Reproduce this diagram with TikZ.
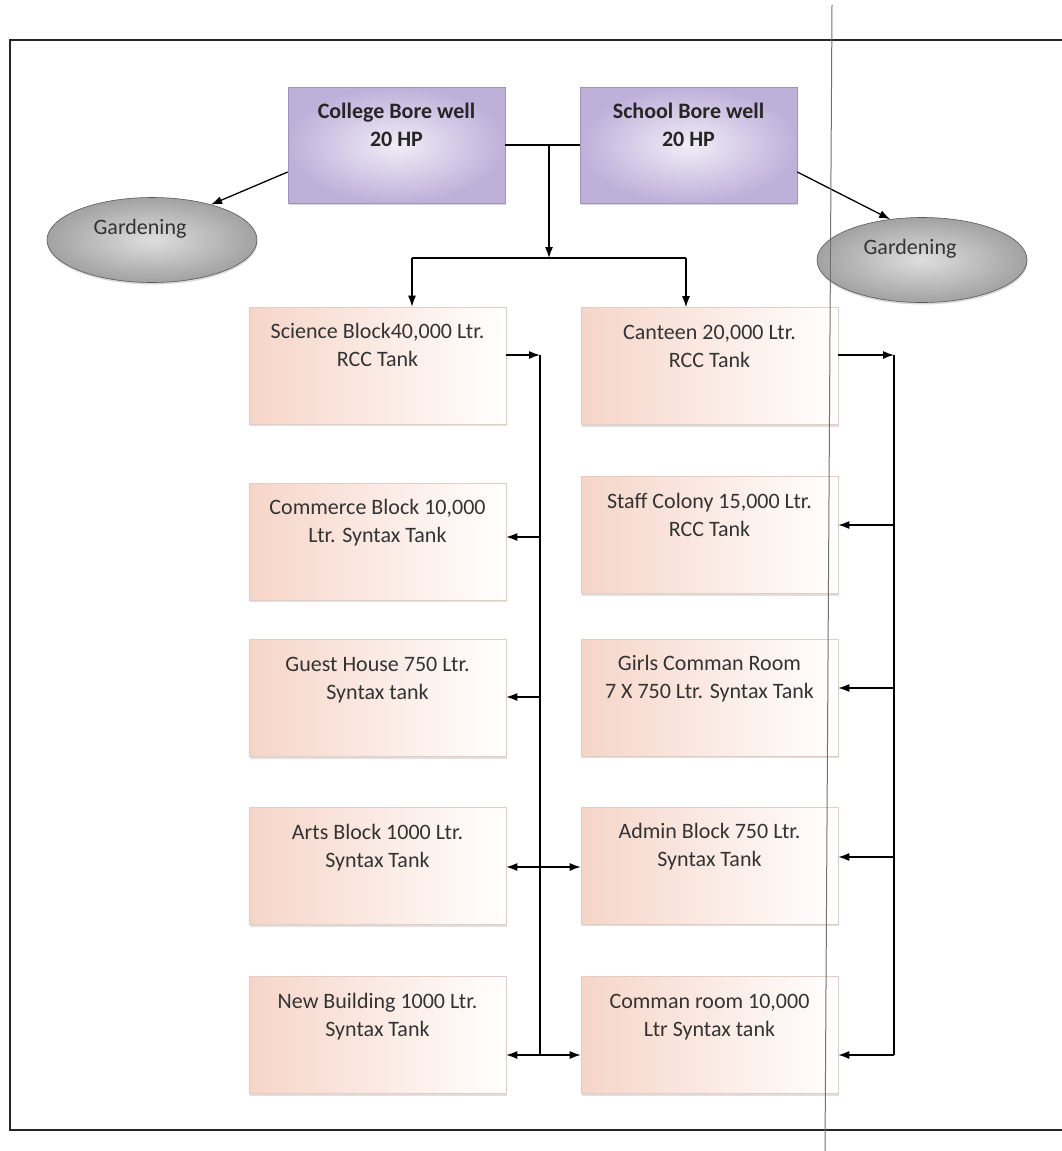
\documentclass[tikz,border=0pt]{standalone}
\usepackage{fontspec}
\setmainfont{Carlito}
\usetikzlibrary{shapes.geometric,arrows.meta,shadows}
\definecolor{wellin}{HTML}{F1EDF7}
\definecolor{wellout}{HTML}{BFB0DA}
\definecolor{wellbd}{HTML}{A193BE}
\definecolor{tankl}{HTML}{F6D5C8}
\definecolor{tankbd}{HTML}{E2CCC4}
\definecolor{gin}{HTML}{DEDEDE}
\definecolor{gout}{HTML}{A2A2A2}
\definecolor{txt}{HTML}{333333}
\newcommand\welltext[1]{\parbox[t][116pt][t]{217pt}{\centering\vspace*{12pt}\strut#1}}
\newcommand\tanktext[1]{\parbox[t][117pt][t]{257pt}{\centering\vspace*{12pt}\strut#1}}
\newcommand\gtext[1]{\smash{\raisebox{6pt}{#1}}\rule{24pt}{0pt}}
\tikzset{
  well/.style={draw=wellbd, line width=0.6pt, inner color=wellin, outer color=wellout,
    inner sep=0pt, font=\bfseries\fontsize{22}{28}\selectfont, text=black!85,
    drop shadow={shadow xshift=0.5pt, shadow yshift=-2pt, opacity=0.3}},
  tank/.style={draw=tankbd, line width=0.6pt, left color=tankl, right color=white,
    inner sep=0pt, font=\fontsize{22}{28}\selectfont, text=txt,
    drop shadow={shadow xshift=0.5pt, shadow yshift=-2pt, opacity=0.25}},
  garden/.style={ellipse, draw=gray!70!black, line width=0.6pt, inner color=gin, outer color=gout,
    minimum width=210pt, minimum height=85pt, inner sep=0pt,
    font=\fontsize{22}{26}\selectfont, text=black!80,
    drop shadow={shadow xshift=0.5pt, shadow yshift=-2pt, opacity=0.3}},
  conn/.style={line width=1.3pt, black},
  arr/.style={conn, -{Latex[length=11pt,width=8pt]}},
  frame/.style={line width=1.8pt, black!85},
  stray/.style={line width=1pt, black!55},
}
\begin{document}
\begin{tikzpicture}[x=1pt,y=-1pt]
\useasboundingbox[fill=white] (0,0) rectangle (1062,1151);
% frame
\draw[frame] (1062,40) -- (10,40) -- (10,1130) -- (1062,1130);
% wells
\node[well] (college) at (396.5,145) {\welltext{College Bore well\\20 HP}};
\node[well] (school) at (688.5,145) {\welltext{School Bore well\\20 HP}};
% gardening
\node[garden] (gl) at (152,240) {\gtext{Gardening}};
\node[garden] (gr) at (922,260) {\gtext{Gardening}};
% tanks left
\node[tank] (sci) at (377.5,365.5) {\tanktext{Science Block40,000 Ltr.\\RCC Tank}};
\node[tank] (com) at (377.5,541.5) {\tanktext{Commerce Block 10,000\\Ltr. Syntax Tank}};
\node[tank] (gue) at (377.5,698) {\tanktext{Guest House 750 Ltr.\\Syntax tank}};
\node[tank] (art) at (377.5,866) {\tanktext{Arts Block 1000 Ltr.\\Syntax Tank}};
\node[tank] (new) at (377.5,1035) {\tanktext{New Building 1000 Ltr.\\Syntax Tank}};
% tanks right
\node[tank] (can) at (709.5,366) {\tanktext{Canteen 20,000 Ltr.\\RCC Tank}};
\node[tank] (sta) at (709.5,535) {\tanktext{Staff Colony 15,000 Ltr.\\RCC Tank}};
\node[tank] (gir) at (709.5,697.5) {\tanktext{Girls Comman Room\\7 X 750 Ltr. Syntax Tank}};
\node[tank] (adm) at (709.5,865.5) {\tanktext{Admin Block 750 Ltr.\\Syntax Tank}};
\node[tank] (cmr) at (709.5,1035) {\tanktext{Comman room 10,000\\Ltr Syntax tank}};
% junction coordinates
\coordinate (j1) at (549,145);
\coordinate (j2) at (549,258);
\coordinate (jl) at (412,258);
\coordinate (jr) at (686,258);
\coordinate (bl1) at (540,355);
\coordinate (bl2) at (540,1055);
\coordinate (br1) at (894,355);
\coordinate (br2) at (894,1055);
% top connectors
\draw[conn] (college.east) -- (school.west);
\draw[arr] (j1) -- (j2);
\draw[conn] (jl) -- (jr);
\draw[arr] (jl) -- (jl |- sci.north);
\draw[arr] (jr) -- (jr |- can.north);
\draw[arr] ([yshift=-27pt]college.west) -- (gl.31);
\draw[arr] ([yshift=-27pt]school.east) -- (gr.128);
% left bus
\draw[arr] (sci.east |- bl1) -- (bl1);
\draw[conn] (bl1) -- (bl2);
\draw[arr] (bl1 |- 0,537) -- (com.east |- 0,537);
\draw[arr] (bl1 |- 0,697) -- (gue.east |- 0,697);
\draw[arr] (bl1 |- 0,867) -- (art.east |- 0,867);
\draw[arr] (bl1 |- 0,867) -- (adm.west |- 0,867);
\draw[arr] (bl2) -- (new.east |- bl2);
\draw[arr] (bl2) -- (cmr.west |- bl2);
% right bus
\draw[arr] (can.east |- br1) -- (br1);
\draw[conn] (br1) -- (br2);
\draw[arr] (br1 |- 0,525) -- (sta.east |- 0,525);
\draw[arr] (br1 |- 0,688) -- (gir.east |- 0,688);
\draw[arr] (br1 |- 0,857) -- (adm.east |- 0,857);
\draw[arr] (br2) -- (cmr.east |- br2);
% stray scan line
\draw[stray] (832,5) -- (825,1151);
\end{tikzpicture}
\end{document}
